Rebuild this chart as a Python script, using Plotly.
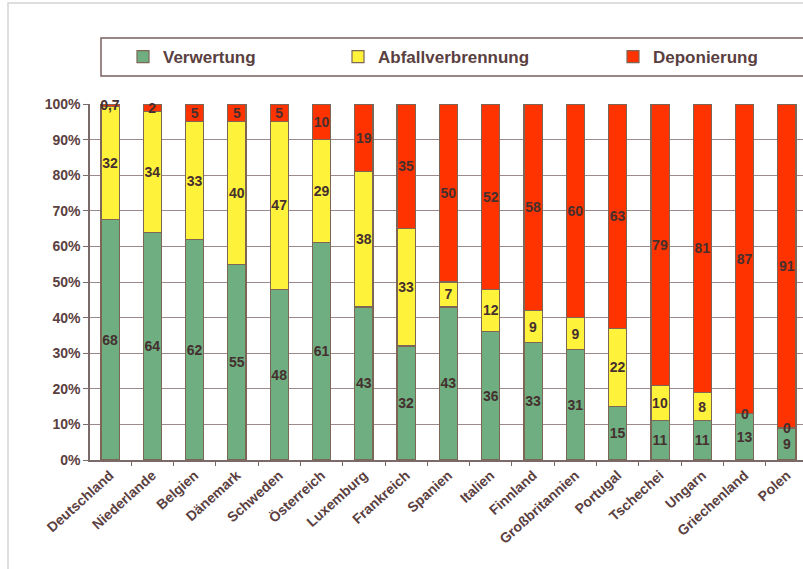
import plotly.graph_objects as go

countries = ["Deutschland", "Niederlande", "Belgien", "Dänemark", "Schweden", "Österreich",
             "Luxemburg", "Frankreich", "Spanien", "Italien", "Finnland", "Großbritannien",
             "Portugal", "Tschechei", "Ungarn", "Griechenland", "Polen"]
verwertung = [68, 64, 62, 55, 48, 61, 43, 32, 43, 36, 33, 31, 15, 11, 11, 13, 9]
verbrennung = [32, 34, 33, 40, 47, 29, 38, 33, 7, 12, 9, 9, 22, 10, 8, 0, 0]
deponierung = [0.7, 2, 5, 5, 5, 10, 19, 35, 50, 52, 58, 60, 63, 79, 81, 87, 91]
series_names = ["Verwertung", "Abfallverbrennung", "Deponierung"]
y_ticks = [0, 10, 20, 30, 40, 50, 60, 70, 80, 90, 100]

colors = ["#6fae80", "#fff23a", "#ff3300"]
edge = "#7d6656"
txt = "#45302f"
axis_txt = "#5a4040"
FONT = "Liberation Sans"


def fmt(v):
    return ("%g" % v).replace(".", ",")


fig = go.Figure()
legend_ids = ["legend", "legend2", "legend3"]
all_series = [verwertung, verbrennung, deponierung]
for name, vals, col, lg in zip(series_names, all_series, colors, legend_ids):
    fig.add_trace(go.Bar(
        x=countries, y=vals, name=name,
        marker=dict(color=col, line=dict(color=edge, width=1.2)),
        text=[fmt(v) for v in vals], textposition="inside", insidetextanchor="middle",
        textangle=0, cliponaxis=False,
        textfont=dict(family=FONT, size=14, color=txt, weight="bold"),
        legend=lg,
    ))

# labels of zero-sized segments (not drawn by plotly), placed at the stack boundary
annotations = []
for i, c in enumerate(countries):
    total = sum(s[i] for s in all_series)
    cum = 0
    for s in all_series:
        if s[i] == 0:
            annotations.append(dict(x=c, y=100 * cum / total, xref="x", yref="y",
                                    text=fmt(s[i]), showarrow=False,
                                    font=dict(family=FONT, size=14, color=txt, weight="bold")))
        cum += s[i]

W, H = 803, 569
L, R, T, B = 90, 0, 104, 109
pw, ph = W - L - R, H - T - B


def px2x(p):
    return (p - L) / pw


def py2y(p):
    return (H - B - p) / ph


leg_common = dict(orientation="h", yanchor="middle", xanchor="left", bgcolor="rgba(0,0,0,0)",
                  borderwidth=0, font=dict(family=FONT, size=17, color=axis_txt, weight="bold"),
                  itemwidth=30, itemclick=False)
legx = [123, 338, 613]
layout_legends = {}
for lg, lx in zip(legend_ids, legx):
    layout_legends[lg] = dict(leg_common, x=px2x(lx), y=py2y(57))

fig.update_layout(
    width=W, height=H,
    margin=dict(l=L, r=R, t=T, b=B, autoexpand=False),
    barmode="stack", barnorm="percent", bargap=0.57,
    plot_bgcolor="white", paper_bgcolor="white",
    font=dict(family=FONT, color=txt),
    uniformtext=dict(minsize=14, mode="show"),
    xaxis=dict(range=[-0.473, 16.38], tickangle=-42, ticks="outside", tickson="boundaries",
               ticklen=4, tickcolor="#7a6a6a", showline=True, linecolor="#7a6a6a", linewidth=1.5,
               tickfont=dict(family=FONT, size=14, color=axis_txt, weight="bold"),
               showgrid=False),
    yaxis=dict(range=[0, 100], tickvals=y_ticks, ticktext=[f"{v}%" for v in y_ticks],
               ticks="outside", ticklen=5, tickcolor="#7a6a6a", showline=True, linecolor="#7a6a6a",
               linewidth=1.5, gridcolor="#9c8a8a", gridwidth=1,
               tickfont=dict(family=FONT, size=14, color=axis_txt, weight="bold")),
    showlegend=True,
    annotations=annotations,
    **layout_legends,
    shapes=[
        dict(type="rect", xref="paper", yref="paper", x0=px2x(8), x1=px2x(830),
             y0=py2y(640), y1=py2y(3), line=dict(color="#d4d4d4", width=1.5), layer="below"),
        dict(type="rect", xref="paper", yref="paper", x0=px2x(101), x1=px2x(830),
             y0=py2y(76), y1=py2y(38), line=dict(color="#7a6060", width=1.5), layer="below"),
    ],
)

fig.write_html("out.html", config={"displayModeBar": False},
               post_script="document.body.style.margin='0';document.body.style.overflow='hidden';")
